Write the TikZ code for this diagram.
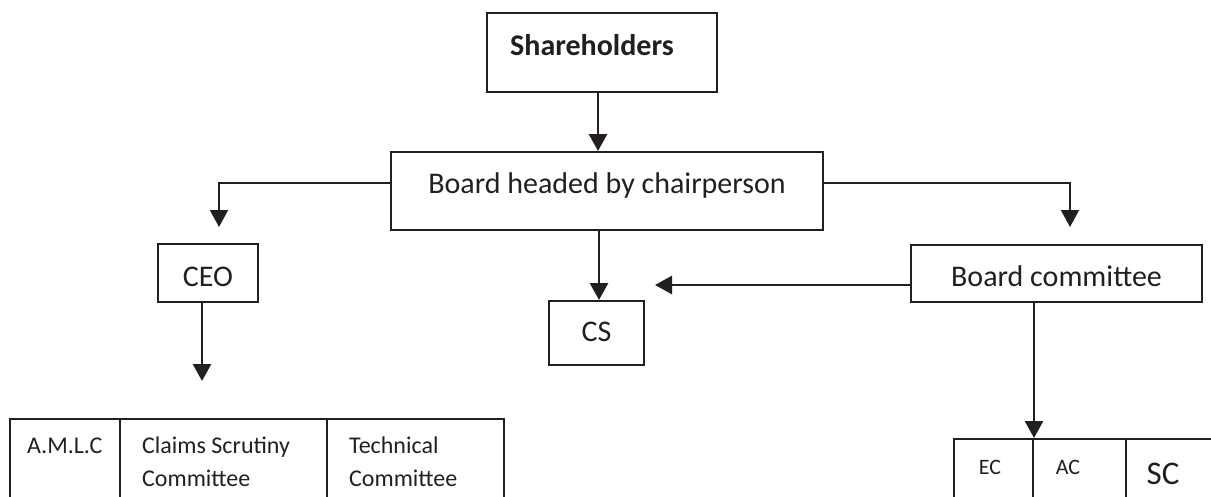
\documentclass[tikz,border=0pt]{standalone}
\usepackage{fontspec}
\setmainfont{Carlito}
\usetikzlibrary{arrows.meta}

\definecolor{ink}{HTML}{231F20}

\tikzset{
  box/.style={draw=ink,line width=2pt,inner sep=0pt,text=ink,font=\fontsize{30}{36}\selectfont},
  cell/.style={draw=ink,line width=2pt,inner sep=0pt,minimum height=120pt,anchor=north west},
  celltext/.style={inner sep=0pt,text=ink,align=left,font=\fontsize{24}{33}\selectfont},
  arr/.style={draw=ink,line width=2.8pt,-{Triangle[width=18pt,length=17pt]}},
  link/.style={draw=ink,line width=2pt,-{Triangle[width=18pt,length=17pt]}}
}

\begin{document}
\begin{tikzpicture}[x=1pt,y=-1pt]

  \useasboundingbox (0,0) rectangle (1211,496);
  \clip (0,0) rectangle (1211,496);

  % boxes
  \node[box,anchor=north west,minimum width=230pt,text height=42pt,text depth=37pt,
        font=\fontsize{30}{36}\selectfont\bfseries] (share) at (486,12) {Shareholders\kern20pt};
  \node[box,anchor=north west,minimum width=432pt,text height=41.5pt,text depth=36.5pt] (board) at (390,151) {Board headed by chairperson};
  \node[box,anchor=north west,minimum width=100pt,text height=42pt,text depth=16pt] (ceo) at (157,243) {CEO};
  \node[box,anchor=north west,minimum width=95pt,text height=40.7pt,text depth=23.3pt] (cs) at (548,300) {CS};
  \node[box,anchor=north west,minimum width=291pt,text height=41pt,text depth=16pt] (bc) at (910,244) {Board committee};

  % free ends of the arrows
  \coordinate (ceoin)  at ( 219, 227);
  \coordinate (bcin)   at (1070, 227);
  \coordinate (csin)   at ([yshift=-11.5pt]bc.west -| 655,0);
  \coordinate (amlcin) at ([xshift=-6pt]ceo.south |- 0,381);

  % left table
  \node[cell,minimum width=110pt] (amlc)   at (  9,418) {};
  \node[cell,minimum width=207pt] (claims) at (119,418) {};
  \node[cell,minimum width=177pt] (tech)   at (326,418) {};
  \node[celltext,anchor=base west] (amlct)   at ([xshift=18pt,yshift=-35pt]amlc.north west) {A.M.L.C};
  \node[celltext,anchor=base west] (claimst) at ([xshift=23pt,yshift=-68pt]claims.north west) {Claims Scrutiny\\Committee};
  \node[celltext,anchor=base west] (techt)   at ([xshift=23pt,yshift=-68pt]tech.north west) {Technical\\Committee};

  % right table
  \node[cell,minimum width=79pt]  (ec) at ( 953,438) {};
  \node[cell,minimum width=93pt]  (ac) at (1032,438) {};
  \node[cell,minimum width=120pt] (sc) at (1125,438) {};
  \node[celltext,anchor=base,font=\fontsize{22}{26}\selectfont] (ect) at ( 990,474) {EC};
  \node[celltext,anchor=base,font=\fontsize{22}{26}\selectfont] (act) at (1068,474) {AC};
  \node[celltext,anchor=base,font=\fontsize{33}{40}\selectfont] (sct) at (1163,484) {SC};

  % connectors
  \draw[arr] ([xshift=-4pt]share.south) -- ([xshift=-4pt]share.south |- board.north);
  \draw[link] ([yshift=8pt]board.west) -| (ceoin);
  \draw[link] ([yshift=8pt]board.east) -| (bcin);
  \draw[arr] ([xshift=2.5pt]cs.north |- board.south) -- ([xshift=2.5pt]cs.north);
  \draw[arr] ([yshift=-11.5pt]bc.west) -- (csin);
  \draw[arr] ([xshift=-6pt]ceo.south) -- (amlcin);
  \draw[arr] (ec.north east |- bc.south) -- (ec.north east);

\end{tikzpicture}
\end{document}
